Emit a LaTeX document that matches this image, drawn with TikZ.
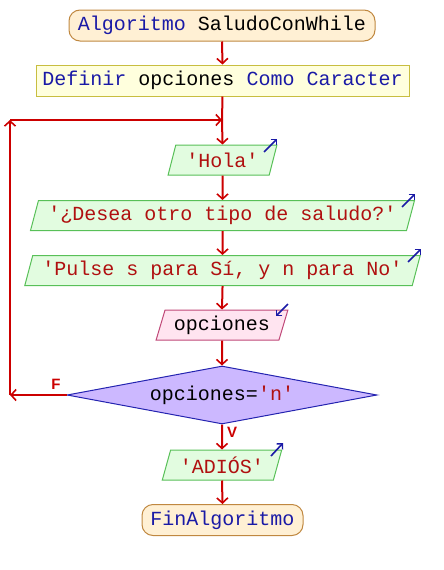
\documentclass[tikz,border=0pt]{standalone}
\usepackage{fontspec}
\setmonofont{Liberation Mono}
\newfontfamily\lblfont{Liberation Sans}
\usetikzlibrary{shapes.geometric,arrows.meta}
\definecolor{kw}{HTML}{1A1AA6}
\definecolor{str}{HTML}{B01010}
\definecolor{arr}{HTML}{CC0000}
\definecolor{tfill}{HTML}{FFF0D4}
\definecolor{tdraw}{HTML}{C08840}
\definecolor{dfill}{HTML}{FFFFDD}
\definecolor{ddraw}{HTML}{C8BE40}
\definecolor{ofill}{HTML}{E2FCE0}
\definecolor{odraw}{HTML}{58C058}
\definecolor{ifill}{HTML}{FFE4F0}
\definecolor{idraw}{HTML}{C04878}
\definecolor{cfill}{HTML}{CCB8FF}
\definecolor{cdraw}{HTML}{2424B0}
\tikzset{
  every node/.style={font=\ttfamily\fontsize{20}{24}\selectfont, inner sep=0pt},
  term/.style={rounded corners=11pt, draw=tdraw, fill=tfill, line width=1pt, minimum height=31pt},
  defbox/.style={draw=ddraw, fill=dfill, line width=1pt, minimum height=31pt},
  outbox/.style={trapezium, trapezium left angle=68, trapezium right angle=112, trapezium stretches=true, draw=odraw, fill=ofill, line width=1pt, minimum height=30pt},
  inbox/.style={outbox, draw=idraw, fill=ifill},
  condbox/.style={diamond, aspect=5.34, draw=cdraw, fill=cfill, line width=1pt, minimum width=310pt, minimum height=58pt},
  flow/.style={draw=arr, line width=2pt, -{Straight Barb[length=5pt,width=11pt,line width=1.6pt]}},
  plain/.style={draw=arr, line width=2pt},
  iomark/.style={draw=kw, line width=1.6pt, -{Straight Barb[length=4pt,width=8pt,line width=1.4pt]}},
  lbl/.style={font=\lblfont\bfseries\fontsize{15}{17}\selectfont, text=arr}
}
\begin{document}
\begin{tikzpicture}[x=1pt,y=-1pt]
\useasboundingbox (0,0) rectangle (444,570);
\node[term, minimum width=306pt] (start) at (222,25.5) {\textcolor{kw}{Algoritmo} SaludoConWhile};
\node[defbox, minimum width=373pt] (def) at (222.5,80.5) {\textcolor{kw}{Definir} opciones \textcolor{kw}{Como Caracter}};
\node[outbox, minimum width=109pt] (hola) at (222.5,160) {\textcolor{str}{'Hola'}};
\node[outbox, minimum width=385pt] (desea) at (222.5,215.5) {\textcolor{str}{'¿Desea otro tipo de saludo?'}};
\node[outbox, minimum width=397pt] (pulse) at (222.5,270.5) {\textcolor{str}{'Pulse s para Sí, y n para No'}};
\node[inbox, minimum width=132pt] (opc) at (222,325) {opciones};
\node[condbox] (cond) at (222,395) {opciones=\textcolor{str}{'n'}};
\node[outbox, minimum width=120pt] (adios) at (222,465) {\textcolor{str}{'ADIÓS'}};
\node[term, minimum width=161pt] (fin) at (222.5,520) {\textcolor{kw}{FinAlgoritmo}};
\coordinate (join) at (222,120);
\coordinate (lb) at (10,395);
\coordinate (lt) at (10,120);
\node[lbl] (flbl) at (56,384) {F};
\node[lbl] (vlbl) at (232,432) {V};
% small marks
\coordinate (h1) at (264,152); \coordinate (h2) at (277,139);
\coordinate (d1) at (402,207); \coordinate (d2) at (415,194);
\coordinate (p1) at (408,262); \coordinate (p2) at (421,249);
\coordinate (o1) at (288,304); \coordinate (o2) at (276,316);
\coordinate (a1) at (271,456); \coordinate (a2) at (283,443);
\draw[iomark] (h1) -- (h2);
\draw[iomark] (d1) -- (d2);
\draw[iomark] (p1) -- (p2);
\draw[iomark] (o1) -- (o2);
\draw[iomark] (a1) -- (a2);
% connectors
\draw[flow] (start.south) -- (def.north);
\draw[plain] (def.south) -- (join);
\draw[flow] (join) -- (hola.north);
\draw[flow] (hola.south) -- (desea.north);
\draw[flow] (desea.south) -- (pulse.north);
\draw[flow] (pulse.south) -- (opc.north);
\draw[flow] (opc.south) -- (cond.north);
\draw[flow] (cond.west) -- (lb);
\draw[flow] (lb) -- (lt);
\draw[flow] (lt) -- (join);
\draw[flow] (cond.south) -- (adios.north);
\draw[flow] (adios.south) -- (fin.north);
\end{tikzpicture}
\end{document}
